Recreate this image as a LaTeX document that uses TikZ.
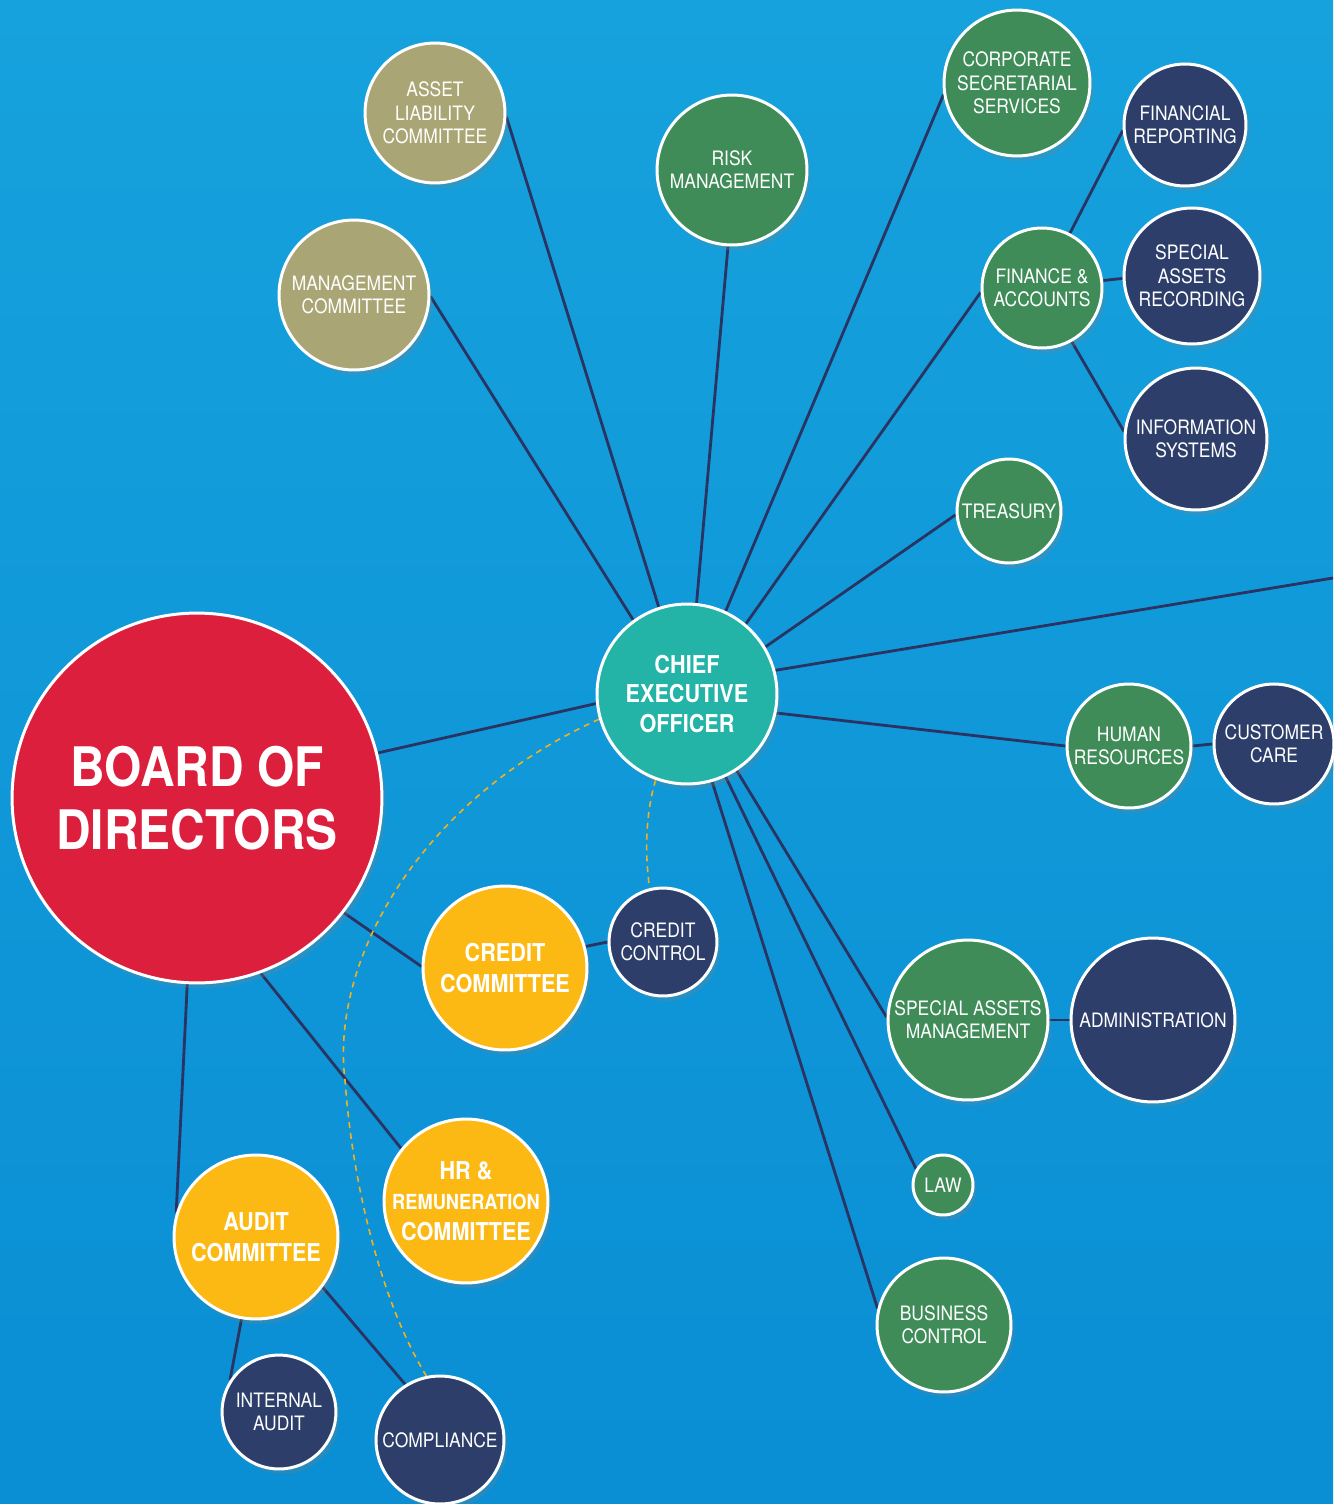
\documentclass[tikz,border=0pt]{standalone}
\usepackage{fontspec}
\setmainfont{TeX Gyre Heros}[FakeStretch=0.88]
\usetikzlibrary{shadows}
\definecolor{bgtop}{HTML}{16A2DD}
\definecolor{bgbot}{HTML}{0A8ED4}
\definecolor{boardred}{HTML}{DC1F3D}
\definecolor{ceoteal}{HTML}{23B3A7}
\definecolor{olive}{HTML}{A9A574}
\definecolor{deptgreen}{HTML}{3F8C59}
\definecolor{navy}{HTML}{2C3E69}
\definecolor{gold}{HTML}{FDB913}
\definecolor{linknavy}{HTML}{2A3462}
\definecolor{dashgold}{HTML}{F3B21B}
\pgfdeclarelayer{back}
\pgfsetlayers{back,main}
\tikzset{
  bubble/.style={circle,draw=white,line width=1.7pt,text=white,align=center,
    inner sep=0pt,minimum size=#1*0.04cm,font=\fontsize{11.3}{13.3}\selectfont,
    drop shadow={shadow xshift=2pt,shadow yshift=-3pt,opacity=0.25}},
  head/.style={font=\bfseries\fontsize{14}{17.5}\selectfont},
  link/.style={draw=linknavy,line width=1.6pt},
  dotlink/.style={draw=dashgold,line width=0.9pt,dash pattern=on 3.4pt off 2.8pt},
}

\begin{document}
\begin{tikzpicture}[x=0.02cm,y=-0.02cm]
  \useasboundingbox (0,0) rectangle (1333,1504);
  \begin{pgfonlayer}{back}
    \shade[top color=bgtop,bottom color=bgbot] (0,0) rectangle (1333,1504);
  \end{pgfonlayer}

  \node[bubble=185,fill=boardred,font=\bfseries\fontsize{31}{36}\selectfont] (board) at (197,798) {BOARD OF\\DIRECTORS};
  \node[bubble=90,fill=ceoteal,head,font=\bfseries\fontsize{14}{17}\selectfont] (ceo) at (687,694) {CHIEF\\EXECUTIVE\\OFFICER};

  \node[bubble=70,fill=olive] (alco) at (435,113) {ASSET\\LIABILITY\\COMMITTEE};
  \node[bubble=75,fill=olive] (mgmt) at (354,295) {MANAGEMENT\\COMMITTEE};
  \node[bubble=75,fill=deptgreen] (risk) at (732,170) {RISK\\MANAGEMENT};
  \node[bubble=73,fill=deptgreen] (corpsec) at (1017,83) {CORPORATE\\SECRETARIAL\\SERVICES};
  \node[bubble=60,fill=deptgreen] (finance) at (1042,288) {FINANCE \&\\ACCOUNTS};
  \node[bubble=61,fill=navy] (finrep) at (1185,125) {FINANCIAL\\REPORTING};
  \node[bubble=68,fill=navy] (sarec) at (1192,276) {SPECIAL\\ASSETS\\RECORDING};
  \node[bubble=71,fill=navy] (infosys) at (1196,439) {INFORMATION\\SYSTEMS};
  \node[bubble=52,fill=deptgreen] (treasury) at (1009,511) {TREASURY};
  \coordinate (edge) at (1333,578);
  \node[bubble=62,fill=deptgreen] (hr) at (1129,746) {HUMAN\\RESOURCES};
  \node[bubble=60,fill=navy] (custcare) at (1274,744) {CUSTOMER\\CARE};
  \node[bubble=80,fill=deptgreen] (samgmt) at (968,1020) {SPECIAL ASSETS\\MANAGEMENT};
  \node[bubble=82,fill=navy] (admin) at (1153,1020) {ADMINISTRATION};
  \node[bubble=30,fill=deptgreen] (law) at (943,1185) {LAW};
  \node[bubble=67,fill=deptgreen] (bizctrl) at (944,1325) {BUSINESS\\CONTROL};

  \node[bubble=54,fill=navy] (crctrl) at (663,942) {CREDIT\\CONTROL};
  \node[bubble=82,fill=gold,head] (crcom) at (505,968) {CREDIT\\COMMITTEE};
  \node[bubble=82,fill=gold,head,inner sep=-6pt] (hrrem) at (466,1201) {HR \&\\{\fontsize{11.8}{17}\selectfont REMUNERATION}\\COMMITTEE};
  \node[bubble=82,fill=gold,head] (audit) at (256,1237) {AUDIT\\COMMITTEE};
  \node[bubble=57,fill=navy] (intaudit) at (279,1412) {INTERNAL\\AUDIT};
  \node[bubble=64,fill=navy] (compl) at (440,1440) {COMPLIANCE};
  \coordinate (bend) at (345,1080);

  \begin{pgfonlayer}{back}
    \draw[link] (board.14) -- (ceo.186);
    \draw[link] (ceo.108) -- (alco.-3);
    \draw[link] (ceo.126) -- (mgmt.-1);
    \draw[link] (ceo.84) -- (risk.267);
    \draw[link] (ceo.65) -- (corpsec.189);
    \draw[link] (ceo.50) -- (finance.184);
    \draw[link] (ceo.31) -- (treasury.184);
    \draw[link] (ceo.15) -- (edge);
    \draw[link] (ceo.-12) -- (hr.west);
    \draw[link] (ceo.-57) -- (samgmt.178);
    \draw[link] (ceo.-65) -- (law.149);
    \draw[link] (ceo.-74) -- (bizctrl.166);
    \draw[link] (finance.63) -- (finrep.185);
    \draw[link] (finance.7) -- (sarec.182);
    \draw[link] (finance.-61) -- (infosys.174);
    \draw[link] (hr.east) -- (custcare.west);
    \draw[link] (samgmt.east) -- (admin.west);
    \draw[link] (board.-38) -- (crcom.179);
    \draw[link] (crcom.15) -- (crctrl.180);
    \draw[link] (board.-70) -- (hrrem.141);
    \draw[link] (board.-93) -- (audit.163);
    \draw[link] (audit.-100) -- (intaudit.147);
    \draw[link] (audit.-37) -- (compl.122);
    \draw[dotlink] (ceo.196) .. controls (420,800) and (330,960) .. (bend)
      .. controls (352,1180) and (380,1300) .. (compl.102);
    \draw[dotlink] (ceo.250) .. controls (645,815) and (645,855) .. (crctrl.104);
  \end{pgfonlayer}
\end{tikzpicture}
\end{document}
